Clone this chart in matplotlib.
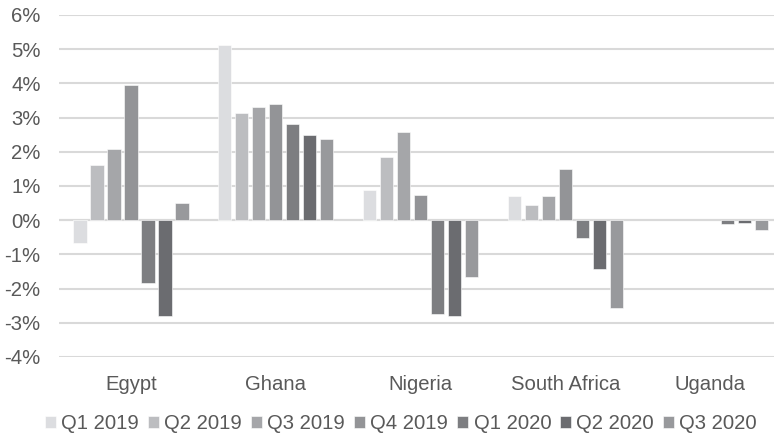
import numpy as np
import matplotlib
matplotlib.use("Agg")
import matplotlib.pyplot as plt
from matplotlib.ticker import FuncFormatter

countries = ["Egypt", "Ghana", "Nigeria", "South Africa", "Uganda"]
quarters = ["Q1 2019", "Q2 2019", "Q3 2019", "Q4 2019", "Q1 2020", "Q2 2020", "Q3 2020"]

# Growth (%) per quarter, one list per country column order above
q1_2019 = [-0.68, 5.11, 0.89, 0.70, np.nan]
q2_2019 = [1.60, 3.14, 1.86, 0.45, np.nan]
q3_2019 = [2.07, 3.30, 2.57, 0.72, np.nan]
q4_2019 = [3.95, 3.41, 0.74, 1.50, np.nan]
q1_2020 = [-1.83, 2.82, -2.73, -0.53, -0.10]
q2_2020 = [-2.79, 2.49, -2.80, -1.42, -0.08]
q3_2020 = [0.51, 2.38, -1.65, -2.58, -0.30]

series = [q1_2019, q2_2019, q3_2019, q4_2019, q1_2020, q2_2020, q3_2020]
colors = ["#dcdde0", "#bcbdc0", "#a5a6a9", "#939497", "#7d7e81", "#6b6c70", "#98999c"]

yticks = list(range(-4, 7))

plt.rcParams["font.family"] = ["Liberation Sans", "DejaVu Sans"]
text_color = "#595959"
fs = 14.6

fig = plt.figure(figsize=(7.74, 4.41), dpi=100)
ax = fig.add_axes([0.0757, 0.1905, 1 - 0.0757, 0.966 - 0.1905])

x = np.arange(len(countries))
pitch = 0.1174
width = 0.092
for i, (vals, c, lab) in enumerate(zip(series, colors, quarters)):
    offs = (i - 3) * pitch
    ax.bar(x + offs, vals, width=width, color=c, label=lab, zorder=3,
           edgecolor="white", linewidth=0.4)

ax.set_ylim(-4, 6)
ax.set_xlim(-0.5, 4.44)
ax.set_yticks(yticks)
ax.yaxis.set_major_formatter(FuncFormatter(lambda v, p: f"{int(v)}%"))
ax.set_xticks(x)
ax.set_xticklabels(countries)
ax.grid(axis="y", color="#d9d9d9", linewidth=1.5, zorder=0)
ax.axhline(0, color="#d9d9d9", linewidth=1.5, zorder=2)
for s in ax.spines.values():
    s.set_visible(False)
ax.tick_params(axis="both", length=0, labelsize=fs, colors=text_color)
ax.tick_params(axis="y", pad=13)
ax.tick_params(axis="x", pad=13)

handles, labels = ax.get_legend_handles_labels()
leg = fig.legend(handles, labels, loc="center", bbox_to_anchor=(0.518, 0.04),
                 ncol=7, frameon=False, fontsize=fs, handlelength=0.55,
                 handleheight=0.55, handletextpad=0.25, columnspacing=0.45,
                 labelcolor=text_color)

fig.savefig("out.png", dpi=100)
